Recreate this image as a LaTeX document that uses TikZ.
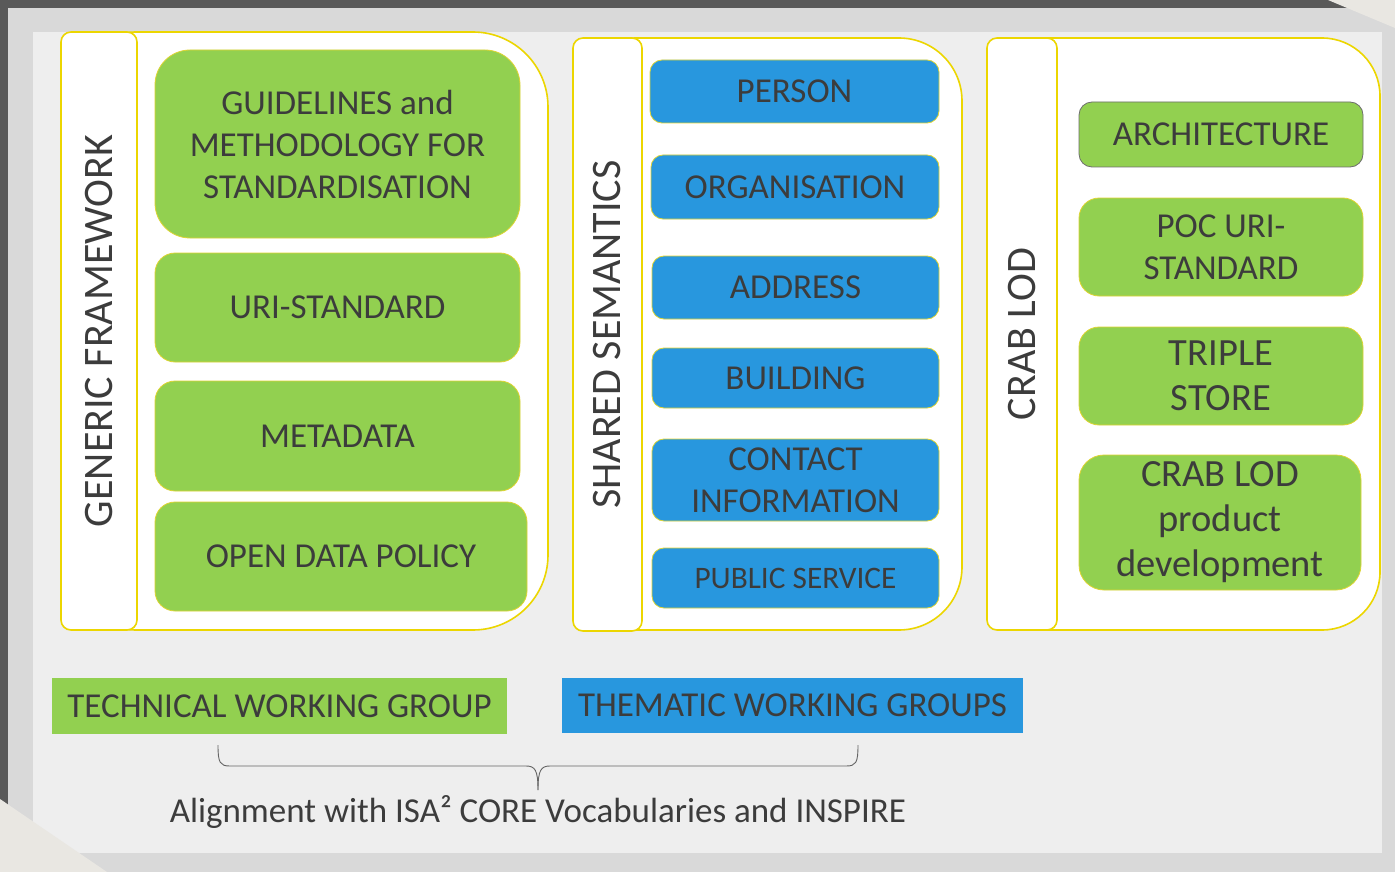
\documentclass[tikz,border=0pt]{standalone}
\usepackage{fontspec}
\setmainfont{Carlito}
\usepackage{tikz}
\usetikzlibrary{positioning}

\definecolor{bandgray}{RGB}{89,89,89}
\definecolor{framegray}{RGB}{217,217,217}
\definecolor{slidegray}{RGB}{238,238,238}
\definecolor{foldwhite}{RGB}{233,231,226}
\definecolor{boxgreen}{RGB}{146,208,80}
\definecolor{boxblue}{RGB}{40,151,222}
\definecolor{panelline}{RGB}{236,214,0}
\definecolor{boxline}{RGB}{222,212,50}
\definecolor{archline}{RGB}{110,110,110}
\definecolor{textgray}{RGB}{60,60,60}
\definecolor{braceline}{RGB}{100,100,100}

\begin{document}
\begin{tikzpicture}[
    x=1pt, y=-1pt,
    panel/.style={
        draw=panelline, line width=1.6pt, fill=white
    },
    strip/.style={
        panel, rounded corners=10pt, rotate=90, inner sep=0pt,
        text=textgray, font=\fontsize{42}{48}\selectfont
    },
    gbox/.style={
        rectangle, fill=boxgreen, draw=boxline, line width=0.8pt,
        rounded corners=20pt, inner sep=0pt, align=center,
        text=textgray, font=\fontsize{35}{42}\selectfont
    },
    bbox/.style={
        gbox, fill=boxblue, rounded corners=12pt
    },
    group/.style={
        rectangle, inner sep=0pt, text=textgray,
        font=\fontsize{35}{40}\selectfont
    },
    brace/.style={
        draw=braceline, line width=0.9pt
    }
]
\useasboundingbox (0,0) rectangle (1395,872);

% Slide background
\fill[bandgray] (0,0) rectangle (1395,872);
\fill[framegray] (8,8) rectangle (1395,872);
\fill[slidegray] (33,32) rectangle (1382,853);
\fill[foldwhite] (0,799) -- (107,872) -- (0,872) -- cycle;
\fill[foldwhite] (1328,0) -- (1395,0) -- (1395,28) -- cycle;

% Generic framework
\draw[panel, rounded corners=75pt] (61,32) rectangle (548,630);
\node[strip, minimum width=598pt, minimum height=76pt] (generic) at (99,331) {GENERIC FRAMEWORK};
\node[gbox, rounded corners=35pt, minimum width=365pt, minimum height=188pt] (guidelines) at (337.5,144) {GUIDELINES and\\METHODOLOGY FOR\\STANDARDISATION};
\node[gbox, minimum width=365pt, minimum height=109pt] (uristd) at (337.5,307.5) {URI-STANDARD};
\node[gbox, minimum width=365pt, minimum height=110pt] (metadata) at (337.5,436) {METADATA};
\node[gbox, minimum width=372pt, minimum height=109pt] (opendata) at (341,556.5) {OPEN DATA POLICY};

% Shared semantics
\draw[panel, rounded corners=63pt] (573,38) rectangle (962,630);
\node[strip, minimum width=593pt, minimum height=69pt] (shared) at (607.5,334.5) {SHARED SEMANTICS};
\node[bbox, minimum width=289pt, minimum height=63pt] (person) at (794.5,91.5) {PERSON};
\node[bbox, minimum width=288pt, minimum height=64pt] (organisation) at (795,187) {ORGANISATION};
\node[bbox, minimum width=287pt, minimum height=63pt] (address) at (795.5,287.5) {ADDRESS};
\node[bbox, minimum width=287pt, minimum height=60pt] (building) at (795.5,378) {BUILDING};
\node[bbox, minimum width=287pt, minimum height=82pt] (contact) at (795.5,480) {CONTACT\\INFORMATION};
\node[bbox, minimum width=287pt, minimum height=60pt, font=\fontsize{31.3}{36}\selectfont] (pubservice) at (795.5,578) {PUBLIC SERVICE};

% Crab LOD
\draw[panel, rounded corners=58pt] (987,38) rectangle (1380,630);
\node[strip, minimum width=592pt, minimum height=70pt] (crab) at (1022,334) {CRAB LOD};
\node[gbox, draw=archline, rounded corners=13pt, minimum width=284pt, minimum height=65pt] (architecture) at (1221,134.5) {ARCHITECTURE};
\node[gbox, minimum width=284pt, minimum height=98pt] (pocuri) at (1221,247) {POC URI-\\STANDARD};
\node[gbox, minimum width=284pt, minimum height=98pt, font=\fontsize{38.5}{45}\selectfont] (triplestore) at (1221,376) {TRIPLE\\STORE};
\node[gbox, rounded corners=25pt, minimum width=282pt, minimum height=135pt, font=\fontsize{38.5}{45}\selectfont] (product) at (1220,522.5) {CRAB LOD\\product\\development};

% Working groups
\node[group, fill=boxgreen, minimum width=455pt, minimum height=56pt] (technical) at (279.5,706) {TECHNICAL WORKING GROUP};
\node[group, fill=boxblue, minimum width=461pt, minimum height=55pt] (thematic) at (792.5,705.5) {THEMATIC WORKING GROUPS};

% Brace under the groups
\coordinate (braceL) at (218,745);
\coordinate (braceR) at (858,745);
\coordinate (braceTip) at (538,790);
\draw[brace] (braceL) .. controls (218,763) and (220,766) .. (230,766) -- (526,766) .. controls (535,766) and (538,770) .. (braceTip);
\draw[brace] (braceR) .. controls (858,763) and (856,766) .. (846,766) -- (550,766) .. controls (541,766) and (538,770) .. (braceTip);
\node[group] (alignment) at (538,812) {Alignment with ISA² CORE Vocabularies and INSPIRE};

\end{tikzpicture}
\end{document}
